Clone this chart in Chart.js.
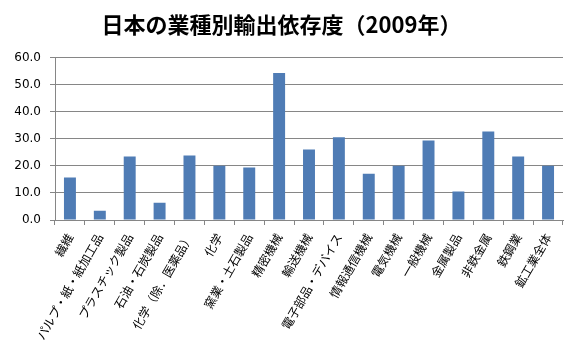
<!DOCTYPE html>
<html>
<head>
<meta charset="utf-8">
<script src="https://cdn.jsdelivr.net/npm/chart.js@4"></script>
<style>
  html, body { margin: 0; padding: 0; background: #fff; }
  #wrap { width: 570px; height: 352px; }
</style>
</head>
<body>
<div id="wrap"><canvas id="chart"></canvas></div>
<script>
const categories = ["繊維", "パルプ・紙・紙加工品", "プラスチック製品", "石油・石炭製品", "化学（除．医薬品）", "化学",
    "窯業・土石製品", "精密機械", "輸送機械", "電子部品・デバイス", "情報通信機械", "電気機械",
    "一般機械", "金属製品", "非鉄金属", "鉄鋼業", "鉱工業全体"];
const exportShare = [15.7, 3.4, 23.4, 6.4, 23.8, 20.0, 19.4, 54.2, 26.0, 30.5, 17.1, 20.0, 29.3, 10.5, 32.7, 23.4, 20.0];
const yTicks = [0, 10, 20, 30, 40, 50, 60];

const jpFont = '"Noto Sans CJK JP", "Noto Sans", sans-serif';

new Chart(document.getElementById("chart"), {
    type: 'bar',
    data: {
        labels: categories,
        datasets: [{
            data: exportShare,
            backgroundColor: "#4f7cb5",
            barPercentage: 0.4,
            categoryPercentage: 1.0
        }]
    },
    options: {
        responsive: true,
        maintainAspectRatio: false,
        animation: false,
        layout: { padding: { top: 0, right: 7, bottom: 0, left: 0 } },
        plugins: {
            legend: { display: false },
            tooltip: { enabled: false },
            title: {
                display: true,
                text: "日本の業種別輸出依存度（2009年）",
                color: "#000",
                font: { family: jpFont, size: 22, weight: 'bold' },
                padding: { top: 11, bottom: 20 }
            }
        },
        scales: {
            x: {
                grid: {
                    display: true,
                    offset: true,
                    drawOnChartArea: false,
                    drawTicks: true,
                    tickLength: 5,
                    color: "#868686"
                },
                border: { display: true, color: "#868686" },
                ticks: {
                    autoSkip: false,
                    maxRotation: 60,
                    minRotation: 60,
                    padding: 6,
                    color: "#000",
                    font: { family: jpFont, size: 12 }
                },
                afterFit: (scale) => { scale.height = 132; }
            },
            y: {
                min: 0,
                max: 60,
                afterBuildTicks: (scale) => { scale.ticks = yTicks.map(v => ({ value: v })); },
                grid: {
                    color: "#868686",
                    drawTicks: true,
                    tickLength: 5
                },
                border: { display: true, color: "#868686" },
                ticks: {
                    color: "#000",
                    padding: 9,
                    font: { family: '"DejaVu Sans", sans-serif', size: 12 },
                    callback: (v) => Number(v).toFixed(1)
                },
                afterFit: (scale) => { scale.width = 55; }
            }
        }
    }
});
</script>
</body>
</html>
